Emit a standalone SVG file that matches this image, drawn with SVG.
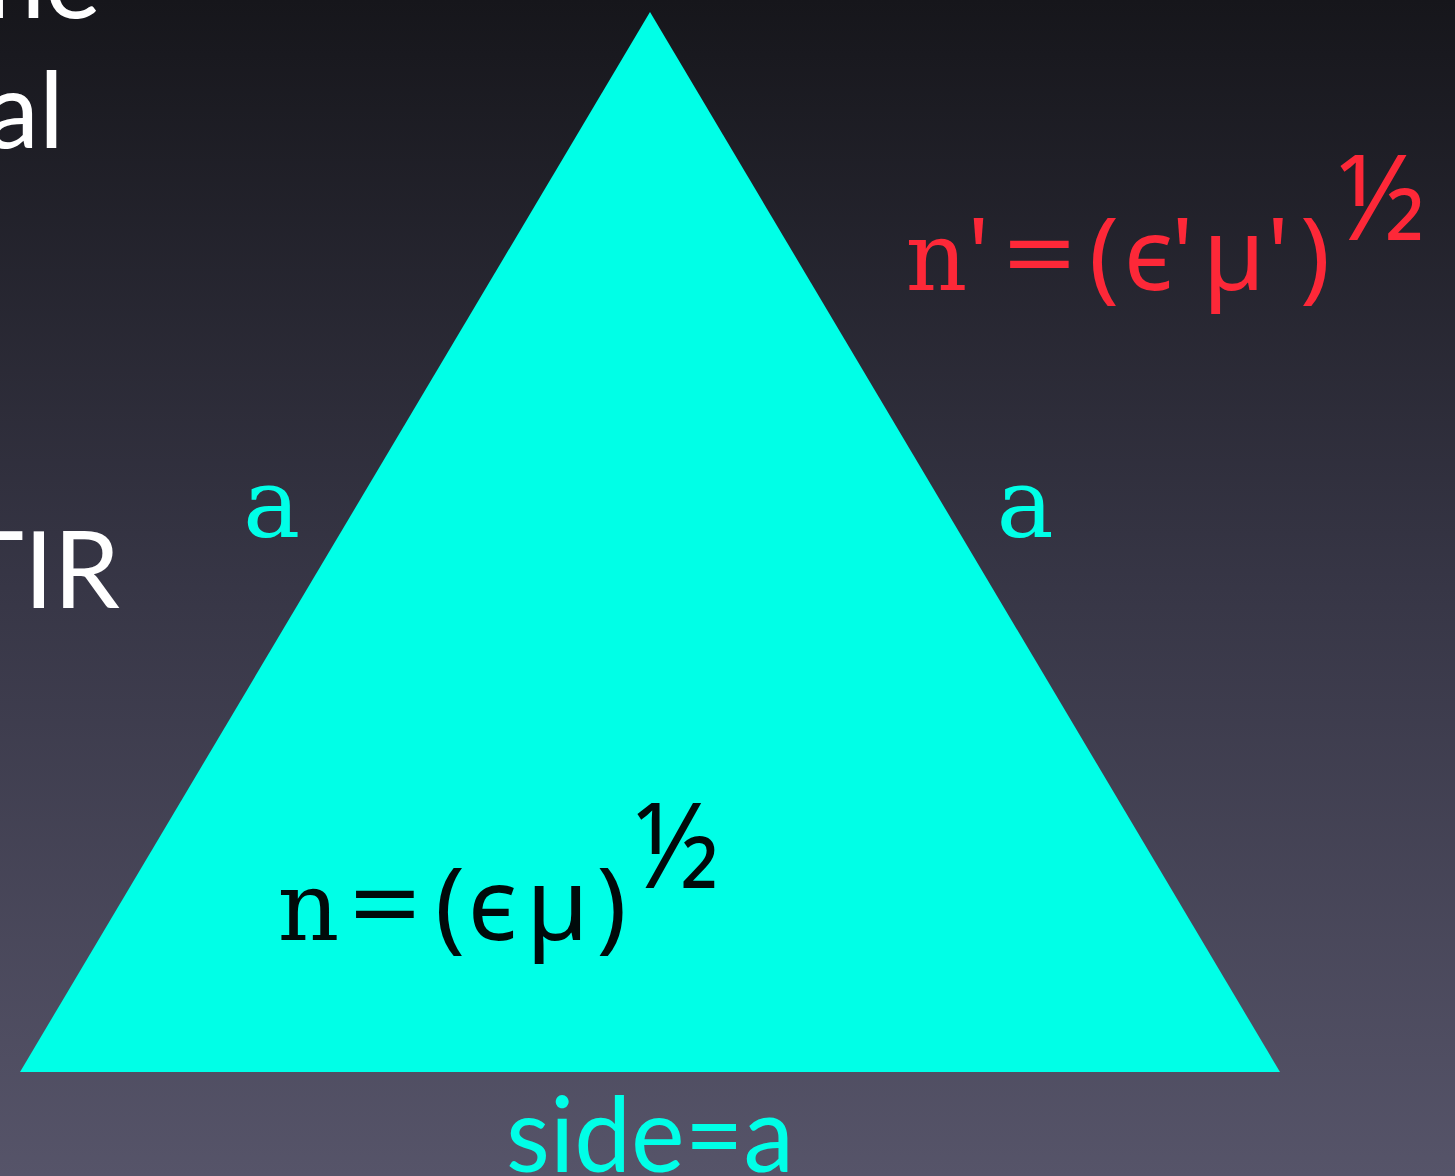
<svg xmlns="http://www.w3.org/2000/svg" width="1455" height="1176" viewBox="0 0 1455 1176">
  <defs>
    <linearGradient id="bg" x1="0" y1="0" x2="0" y2="1">
      <stop offset="0" stop-color="#16161b"/>
      <stop offset="0.5" stop-color="#373646"/>
      <stop offset="1" stop-color="#565469"/>
    </linearGradient>
  </defs>
  <style>
    .slide { font-family: Lato, "Open Sans", "Noto Sans", sans-serif; font-size: 106px; fill: #ffffff; }
    .mono { font-family: "DejaVu Serif", "Liberation Serif", serif; font-size: 96px; text-anchor: middle; }
    .sym { font-family: "Noto Sans", "DejaVu Sans", sans-serif; font-size: 100px; text-anchor: middle; }
    .eq { font-family: "Noto Sans", "DejaVu Sans", sans-serif; font-size: 100px; }
    .half { font-family: "Noto Sans", "DejaVu Sans", sans-serif; font-size: 119px; }
    .red { fill: #fd2838; }
    .blk { fill: #000a0a; }
    .cyan { fill: #00ffe7; }
    .side { font-family: Lato, "Open Sans", "Noto Sans", sans-serif; font-size: 104px; }
  </style>
  <rect x="0" y="0" width="1455" height="1176" fill="url(#bg)"/>

  <g id="slide-text">
    <text class="slide" x="101" y="18" text-anchor="end">ne</text>
    <text class="slide" x="64" y="148" text-anchor="end">al</text>
    <text class="slide" x="120" y="608" text-anchor="end">TIR</text>
  </g>

  <g id="prism">
    <polygon points="650,12 20,1072 1280,1072" class="cyan"/>
    <g id="n-inside">
      <text class="mono blk" x="308.5" y="940">n</text>
      <text class="eq blk" x="349" y="940" textLength="72" lengthAdjust="spacingAndGlyphs">=</text>
      <text class="sym blk" x="450" y="940">(</text>
      <text class="sym blk" x="492.5" y="940">ϵ</text>
      <text class="sym blk" x="557.5" y="940">µ</text>
      <text class="sym blk" x="611.5" y="940">)</text>
      <text class="half blk" x="635" y="888" textLength="84" lengthAdjust="spacingAndGlyphs">½</text>
    </g>
  </g>

  <g id="n-outside">
    <text class="mono red" x="936.5" y="290">n</text>
    <text class="sym red" x="978.5" y="290">'</text>
    <text class="eq red" x="1003" y="290" textLength="73" lengthAdjust="spacingAndGlyphs">=</text>
    <text class="sym red" x="1104" y="290">(</text>
    <text class="sym red" x="1148.5" y="290">ϵ</text>
    <text class="sym red" x="1182.5" y="290">'</text>
    <text class="sym red" x="1234" y="290">µ</text>
    <text class="sym red" x="1278" y="290">'</text>
    <text class="sym red" x="1315" y="290">)</text>
    <text class="half red" x="1338" y="240" textLength="87" lengthAdjust="spacingAndGlyphs">½</text>
  </g>

  <g id="side-labels">
    <text class="mono cyan" x="271.5" y="537">a</text>
    <text class="mono cyan" x="1025" y="537">a</text>
    <text class="side cyan" x="506" y="1172" textLength="288" lengthAdjust="spacingAndGlyphs">side=a</text>
  </g>
</svg>
